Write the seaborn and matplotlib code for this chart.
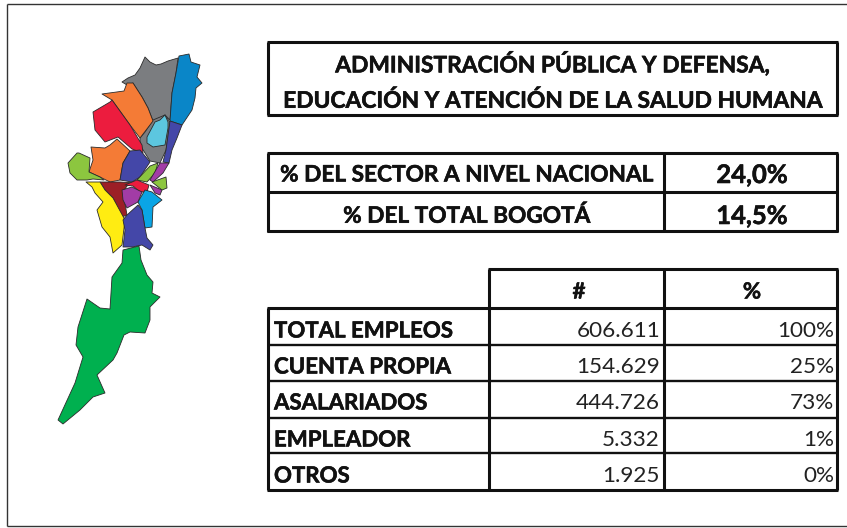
import matplotlib
matplotlib.use('Agg')
import matplotlib.pyplot as plt
import matplotlib.patheffects as pe
import pandas as pd
import seaborn as sns

title_lines = ['ADMINISTRACIÓN PÚBLICA Y DEFENSA,', 'EDUCACIÓN Y ATENCIÓN DE LA SALUD HUMANA']
share_labels = ['% DEL SECTOR A NIVEL NACIONAL', '% DEL TOTAL BOGOTÁ']
share_values = ['24,0%', '14,5%']
col_headers = ['#', '%']
row_labels = ['TOTAL EMPLEOS', 'CUENTA PROPIA', 'ASALARIADOS', 'EMPLEADOR', 'OTROS']
row_counts = ['606.611', '154.629', '444.726', '5.332', '1.925']
row_shares = ['100%', '25%', '73%', '1%', '0%']

# map outlines (pixels)
gray_n = [(122, 82), (128, 78), (135, 75), (140, 68), (145, 57), (150, 62), (156, 65), (161, 64), (168, 61), (178, 58), (176, 73), (172, 93), (170, 120), (165, 115), (160, 120), (153, 121), (148, 108), (142, 97), (133, 83), (127, 85)]
gray_s = [(153, 120), (165, 115), (170, 122), (166, 150), (160, 163), (150, 161), (140, 145), (140, 138), (145, 132)]
blue_n = [(179, 56), (189, 54), (191, 62), (200, 65), (197, 77), (202, 83), (196, 88), (195, 98), (192, 110), (182, 125), (170, 121), (172, 93), (176, 73)]
orange_n = [(102, 94), (124, 91), (127, 83), (133, 83), (142, 97), (148, 108), (153, 121), (140, 138), (130, 125), (112, 100)]
red = [(93, 112), (110, 102), (112, 100), (130, 125), (142, 145), (143, 153), (132, 149), (118, 137), (105, 142), (95, 130)]
light_blue = [(147, 137), (155, 122), (160, 120), (165, 115), (168, 122), (168, 128), (165, 145), (153, 147), (147, 143)]
indigo_e = [(170, 121), (182, 125), (177, 138), (172, 150), (169, 163), (163, 162), (166, 150)]
orange_s = [(91, 147), (105, 148), (110, 145), (117, 139), (130, 151), (123, 163), (120, 180), (110, 182), (100, 177), (89, 172), (93, 160)]
indigo_c = [(130, 151), (140, 150), (150, 162), (140, 177), (132, 182), (120, 180), (123, 163)]
lime_w = [(68, 163), (77, 153), (79, 153), (90, 158), (89, 172), (100, 177), (104, 180), (93, 179), (87, 180), (77, 180), (70, 173)]
lime_c = [(137, 180), (150, 166), (158, 163), (155, 173), (147, 182)]
purple_e = [(150, 180), (160, 163), (169, 163), (163, 173), (153, 182)]
lime_e = [(152, 182), (166, 177), (167, 188), (162, 190)]
purple_s = [(150, 185), (162, 190), (160, 195), (155, 193)]
dark_red = [(100, 182), (120, 182), (135, 183), (127, 186), (123, 192), (127, 215), (122, 217), (113, 198), (105, 190)]
bright_red = [(125, 185), (137, 180), (149, 185), (147, 192), (140, 192), (133, 186)]
purple_c = [(122, 190), (132, 187), (142, 192), (138, 202), (127, 208), (123, 200)]
sky = [(138, 202), (145, 190), (152, 192), (162, 200), (153, 207), (152, 227), (145, 228), (142, 210)]
yellow = [(86, 182), (100, 182), (105, 190), (113, 198), (125, 220), (122, 245), (113, 253), (110, 237), (102, 227), (97, 210), (103, 202), (95, 193), (92, 187)]
indigo_s = [(127, 215), (138, 205), (142, 210), (145, 228), (147, 238), (153, 245), (150, 250), (142, 245), (132, 247), (123, 247), (125, 230), (123, 220)]
green = [(123, 250), (139, 246), (141, 260), (147, 275), (153, 282), (152, 293), (160, 297), (150, 307), (150, 320), (145, 333), (130, 332), (124, 335), (117, 353), (113, 360), (97, 375), (105, 393), (93, 397), (80, 410), (63, 424), (58, 420), (75, 383), (83, 357), (76, 345), (78, 327), (87, 299), (100, 308), (110, 309), (112, 277), (122, 263)]

map_parts = [(gray_n, '#7b7d80'), (gray_s, '#7b7d80'), (blue_n, '#0a86c8'), (orange_n, '#f47b36'), (red, '#ec1c3e'),
             (light_blue, '#5cc6df'), (indigo_e, '#4447a8'), (orange_s, '#f47b36'), (indigo_c, '#4447a8'),
             (lime_w, '#8cc63f'), (lime_c, '#8cc63f'), (purple_e, '#a23ca6'), (lime_e, '#8cc63f'), (purple_s, '#a23ca6'),
             (dark_red, '#9c1f26'), (bright_red, '#ec1c3e'), (purple_c, '#a23ca6'), (sky, '#0aa5e5'),
             (yellow, '#ffec12'), (indigo_s, '#4447a8'), (green, '#00b04f')]

employment = pd.DataFrame({'label': row_labels, 'count': row_counts, 'share': row_shares})

sns.set_theme(style='white')
plt.rcParams['font.family'] = ['Lato', 'DejaVu Sans']

fig = plt.figure(figsize=(8.47, 5.28), dpi=100)
ax = fig.add_axes([0, 0, 1, 1])
ax.set_xlim(0, 847)
ax.set_ylim(528, 0)
ax.axis('off')

BLACK = '#111111'
HEAVY = [pe.withStroke(linewidth=0.4, foreground=BLACK)]


def rules(xs=None, ys=None, span=None, lw=2.2):
    # draws vertical rules at xs or horizontal rules at ys
    if xs is not None:
        ax.vlines(xs, span[0], span[1], color=BLACK, lw=lw)
    else:
        ax.hlines(ys, span[0], span[1], color=BLACK, lw=lw)


# outer frame
ax.vlines(7, 4, 526, color='#333333', lw=1)
ax.hlines([4, 526], 7, 847, color='#333333', lw=1)

for part, colour in map_parts:
    ax.fill([p[0] for p in part], [p[1] for p in part], facecolor=colour, edgecolor='#2a2a2a', lw=0.6, joinstyle='round')

# title box
rules(xs=[268, 837], span=(42, 115))
rules(ys=[42, 115], span=(267, 838))
for line, y in zip(title_lines, [64, 101]):
    ax.text(553, y, line, ha='center', va='center', fontsize=16.4, fontweight='bold', color=BLACK, path_effects=HEAVY)

# share table
rules(xs=[268, 664, 837], span=(153, 232))
rules(ys=[153, 192, 231], span=(267, 838))
for label, value, y in zip(share_labels, share_values, [175, 216]):
    ax.text(467, y, label, ha='center', va='center', fontsize=16.3, fontweight='bold', color=BLACK, path_effects=HEAVY)
    ax.text(752, y, value, ha='center', va='center', fontsize=18.4, fontweight='bold', color=BLACK, path_effects=HEAVY)

# employment table
rules(xs=[489, 664, 837], span=(269, 490))
rules(xs=[268], span=(308, 490))
rules(ys=[269], span=(488, 838))
rules(ys=[308, 490], span=(267, 838))
rules(ys=[345, 381, 418, 453], span=(267, 838), lw=1.7)
for header, x in zip(col_headers, [579, 752]):
    ax.text(x, 292, header, ha='center', va='center', fontsize=16, fontweight='bold', color=BLACK, path_effects=HEAVY)
row_ys = [331, 367, 403, 440, 476]
for row, y in zip(employment.itertuples(), row_ys):
    ax.text(274, y, row.label, ha='left', va='center', fontsize=16, fontweight='bold', color=BLACK, path_effects=HEAVY)
    ax.text(660, y, row.count, ha='right', va='center', fontsize=16.2, color='#222222')
    ax.text(834, y, row.share, ha='right', va='center', fontsize=16.2, color='#222222')

sns.despine(ax=ax, left=True, bottom=True)
fig.savefig('out.png', dpi=100)
